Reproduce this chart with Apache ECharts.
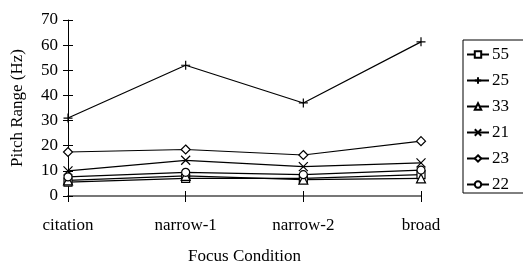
<!DOCTYPE html>
<html>
<head>
<meta charset="utf-8">
<script src="https://cdn.jsdelivr.net/npm/echarts@6/dist/echarts.min.js"></script>
<style>
  html, body { margin: 0; padding: 0; background: #fff; }
  #chart { width: 523px; height: 270px; }
</style>
</head>
<body>
<div id="chart"></div>
<script>
// data
const categories = ['citation', 'narrow-1', 'narrow-2', 'broad'];
const yTicks = [0, 10, 20, 30, 40, 50, 60, 70];

const s55 = [5.5, 7, 7, 8.5];
const s25 = [31, 52, 37, 61.3];
const s33 = [6.2, 8, 6.5, 7];
const s21 = [10, 14.2, 11.7, 13.2];
const s23 = [17.5, 18.5, 16.3, 21.8];
const s22 = [7.6, 9.4, 8.5, 10.3];

const plusPath = 'path://M0,5L10,5M5,0L5,10';
const crossPath = 'path://M0,0L10,10M10,0L0,10';

const font = 'Liberation Serif';

function line(name, data, symbol, size) {
    return {
        name: name,
        type: 'line',
        data: data,
        symbol: symbol,
        symbolSize: size,
        showAllSymbol: true,
        lineStyle: { color: '#000', width: 1.2 },
        itemStyle: { color: '#fff', borderColor: '#000', borderWidth: 1.2 },
        emphasis: { disabled: true },
        z: 3
    };
}

let myChart = echarts.init(document.getElementById('chart'));
myChart.setOption({
    animation: false,
    textStyle: { fontFamily: font, color: '#000' },
    grid: { left: 68, right: 102, top: 20, bottom: 67 },
    legend: {
        orient: 'vertical',
        left: 463,
        top: 40,
        padding: [6, 40, 0, 3],
        itemGap: 9,
        itemWidth: 22,
        itemHeight: 8,
        borderColor: '#000',
        borderWidth: 1,
        textStyle: { fontFamily: font, fontSize: 17, color: '#000', padding: [0, 0, 0, -2] },
        data: ['55', '25', '33', '21', '23', '22']
    },
    xAxis: [{
        type: 'category',
        boundaryGap: false,
        data: categories,
        name: 'Focus Condition',
        nameLocation: 'middle',
        nameGap: 52,
        nameTextStyle: { fontFamily: font, fontSize: 17, color: '#000' },
        axisLine: { lineStyle: { color: '#777', width: 2 } },
        axisTick: { show: true, length: 6, lineStyle: { color: '#000' } },
        axisLabel: { fontFamily: font, fontSize: 17, color: '#000', margin: 21 },
        splitLine: { show: false }
    }, {
        type: 'category',
        position: 'bottom',
        boundaryGap: false,
        data: categories,
        axisLine: { show: false },
        axisTick: { show: true, inside: true, length: 5, lineStyle: { color: '#000' } },
        axisLabel: { show: false },
        splitLine: { show: false }
    }],
    yAxis: [{
        type: 'value',
        min: yTicks[0],
        max: yTicks[yTicks.length - 1],
        interval: 10,
        name: 'Pitch Range (Hz)',
        nameLocation: 'middle',
        nameGap: 42,
        nameTextStyle: { fontFamily: font, fontSize: 17, color: '#000' },
        axisLine: { show: true, lineStyle: { color: '#000', width: 1 } },
        axisTick: { show: true, length: 5, lineStyle: { color: '#000' } },
        axisLabel: { fontFamily: font, fontSize: 17, color: '#000', margin: 10 },
        splitLine: { show: false }
    }, {
        type: 'value',
        position: 'left',
        min: yTicks[0],
        max: yTicks[yTicks.length - 1],
        interval: 10,
        axisLine: { show: false },
        axisTick: { show: true, inside: true, length: 5, lineStyle: { color: '#000' } },
        axisLabel: { show: false },
        splitLine: { show: false }
    }],
    series: [
        line('55', s55, 'rect', 8),
        line('25', s25, plusPath, 9),
        line('33', s33, 'triangle', 9),
        line('21', s21, crossPath, 9),
        line('23', s23, 'diamond', 9),
        line('22', s22, 'circle', 8)
    ]
});
</script>
</body>
</html>
